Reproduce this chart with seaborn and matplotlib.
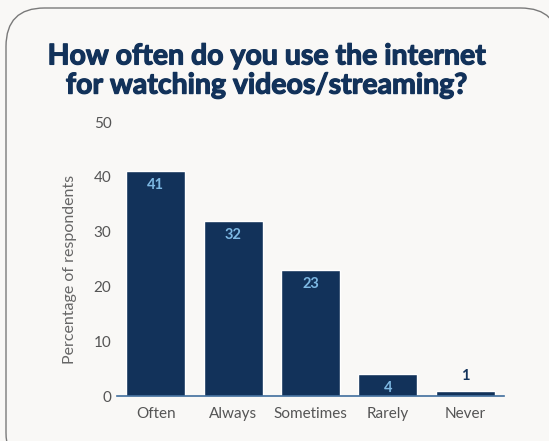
import matplotlib
matplotlib.use("Agg")
import matplotlib.pyplot as plt
import matplotlib.patheffects as pe
from matplotlib.patches import FancyBboxPatch
import seaborn as sns
import pandas as pd

categories = ["Often", "Always", "Sometimes", "Rarely", "Never"]
values = [41, 32, 23, 4, 1]
y_ticks = [0, 10, 20, 30, 40, 50]

title = "How often do you use the internet\nfor watching videos/streaming?"
y_label = "Percentage of respondents"

navy = "#12325a"
label_blue = "#7db8e3"
bg = "#f9f8f6"

sns.set_theme(style="white")
plt.rcParams["font.family"] = ["Lato", "DejaVu Sans"]

W, H = 549, 441
fig = plt.figure(figsize=(W / 100, H / 100), dpi=100)
fig.patch.set_facecolor(bg)

# rounded card behind the chart
card = FancyBboxPatch((6 / W, -30 / H), (548 - 6) / W + 0.02, (H - 8 + 30) / H,
                      boxstyle="round,pad=0,rounding_size=0.07",
                      transform=fig.transFigure, facecolor=bg,
                      edgecolor="#7a7a7a", linewidth=1.0,
                      mutation_aspect=W / H, zorder=-5)
fig.patches.append(card)

fig.text(267 / W, 1 - 71 / H, title, ha="center", va="center",
         fontsize=20.5, fontweight="bold", color=navy, linespacing=1.15,
         path_effects=[pe.withStroke(linewidth=0.9, foreground=navy)])

ax = fig.add_axes([117 / W, 1 - 396 / H, (504 - 117) / W, (396 - 122) / H])
ax.set_facecolor("none")
ax.set_zorder(2)

df = pd.DataFrame({"category": categories, "value": values})
sns.barplot(data=df, x="category", y="value", color=navy, width=0.76,
            saturation=1, ax=ax, zorder=2)

ax.set_xlim(-0.5, len(categories) - 0.5)
ax.set_ylim(0, 50)
ax.set_yticks(y_ticks)
ax.set_yticklabels([str(t) for t in y_ticks])
ax.set_xlabel("")
ax.set_ylabel(y_label, fontsize=11.5, color="#666666")
ax.yaxis.set_label_coords((77 - 117) / (504 - 117), (396 - 269) / (396 - 122))
ax.tick_params(axis="both", length=0, labelsize=11, labelcolor="#555555")
ax.tick_params(axis="x", pad=8)
ax.tick_params(axis="y", pad=4)
for lbl in ax.get_yticklabels():
    lbl.set_verticalalignment("center_baseline")

for side in ["top", "right", "left"]:
    ax.spines[side].set_visible(False)
ax.spines["bottom"].set_color("#3f6d9c")
ax.spines["bottom"].set_linewidth(1.2)

for i, v in enumerate(values):
    if v >= 3:
        ax.text(i, v - 1.3, str(v), ha="center", va="top", fontsize=10.5,
                fontweight="bold", color=label_blue, zorder=3)
    else:
        ax.text(i, v + 1.3, str(v), ha="center", va="bottom", fontsize=10.5,
                fontweight="bold", color=navy, zorder=3)

fig.savefig("out.png", dpi=100, facecolor=bg)
